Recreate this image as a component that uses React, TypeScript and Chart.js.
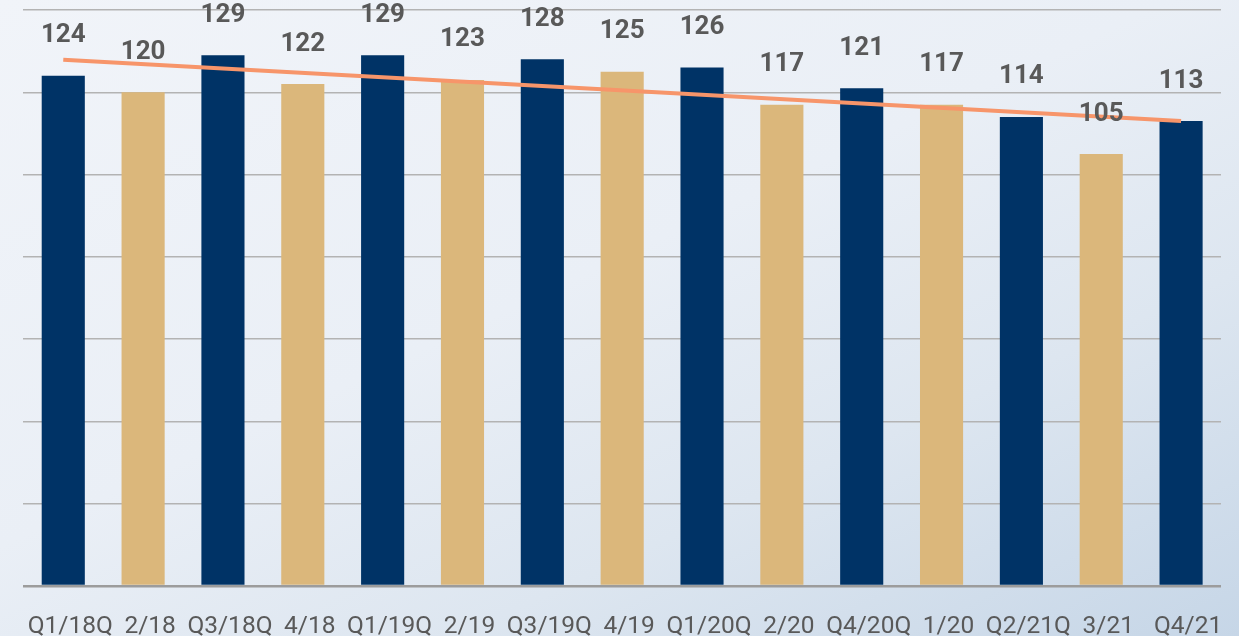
import React, { useEffect, useRef } from "react";
import { Chart, registerables } from "chart.js";

Chart.register(...registerables);

const categories = [
  "Q1/18Q", "2/18", "Q3/18Q", "4/18", "Q1/19Q", "2/19", "Q3/19Q", "4/19",
  "Q1/20Q", "2/20", "Q4/20Q", "1/20", "Q2/21Q", "3/21", "Q4/21",
];
const values = [124, 120, 129, 122, 129, 123, 128, 125, 126, 117, 121, 117, 114, 105, 113];
// trend line: start and end values only
const trendStart = 127.9;
const trendEnd = 113.0;
const yTicksMax = 140;
const yStep = 20;

const NAVY = "#003366";
const TAN = "#DBB77B";
const TREND = "#F7956A";
const LABEL = "#595959";

const barColors = values.map((_, i) => (i % 2 === 0 ? NAVY : TAN));
const trendData = values.map((_, i) =>
  i === 0 ? trendStart : i === values.length - 1 ? trendEnd : null
);

const valueLabels = {
  id: "valueLabels",
  afterDatasetsDraw(chart: any) {
    const meta = chart.getDatasetMeta(1);
    const ctx = chart.ctx;
    ctx.save();
    ctx.font = "bold 26px Roboto";
    ctx.fillStyle = LABEL;
    ctx.textAlign = "center";
    ctx.textBaseline = "middle";
    meta.data.forEach((bar: any, i: number) => {
      ctx.fillText(String(values[i]), bar.x, bar.y - 40);
    });
    ctx.restore();
  },
};

export default function App() {
  const ref = useRef<HTMLCanvasElement>(null);
  useEffect(() => {
    if (!ref.current) return;
    const chart = new Chart(ref.current, {
      type: "bar",
      data: {
        labels: categories,
        datasets: [
          {
            type: "line",
            data: trendData,
            borderColor: TREND,
            borderWidth: 4,
            pointRadius: 0,
            spanGaps: true,
            fill: false,
            order: 0,
          } as any,
          {
            type: "bar",
            data: values,
            backgroundColor: barColors,
            barPercentage: 0.54,
            categoryPercentage: 1,
            order: 1,
          },
        ],
      },
      options: {
        animation: false,
        responsive: false,
        maintainAspectRatio: false,
        layout: { padding: { left: 21, right: 18, top: 10, bottom: 0 } },
        plugins: {
          legend: { display: false },
          tooltip: { enabled: false },
        },
        scales: {
          x: {
            grid: { display: false, drawTicks: false },
            border: { display: false },
            afterFit: (scale: any) => {
              scale.height = 50;
            },
            ticks: {
              color: LABEL,
              font: { family: "Roboto", size: 24.5, lineHeight: 1.7 },
              padding: 20,
              labelOffset: 7,
              maxRotation: 0,
              autoSkip: false,
            },
          },
          y: {
            min: 0,
            max: yTicksMax,
            ticks: { display: false, stepSize: yStep },
            border: { display: false },
            grid: {
              drawTicks: false,
              color: (c: any) => (c.index === 0 ? "#9c9c9c" : "#b3b3b3"),
              lineWidth: (c: any) => (c.index === 0 ? 2.5 : 1.5),
            },
          },
        },
      },
      plugins: [valueLabels],
    });
    return () => chart.destroy();
  }, []);

  return (
    <div
      style={{
        position: "fixed",
        left: 0,
        top: 0,
        width: 1239,
        height: 636,
        background:
          "linear-gradient(155deg, #f1f4f9 0%, #eaeff6 45%, #dde6f0 70%, #c6d6e7 100%)",
        overflow: "hidden",
      }}
    >
      <canvas ref={ref} width={1239} height={636} style={{ display: "block" }} />
    </div>
  );
}
